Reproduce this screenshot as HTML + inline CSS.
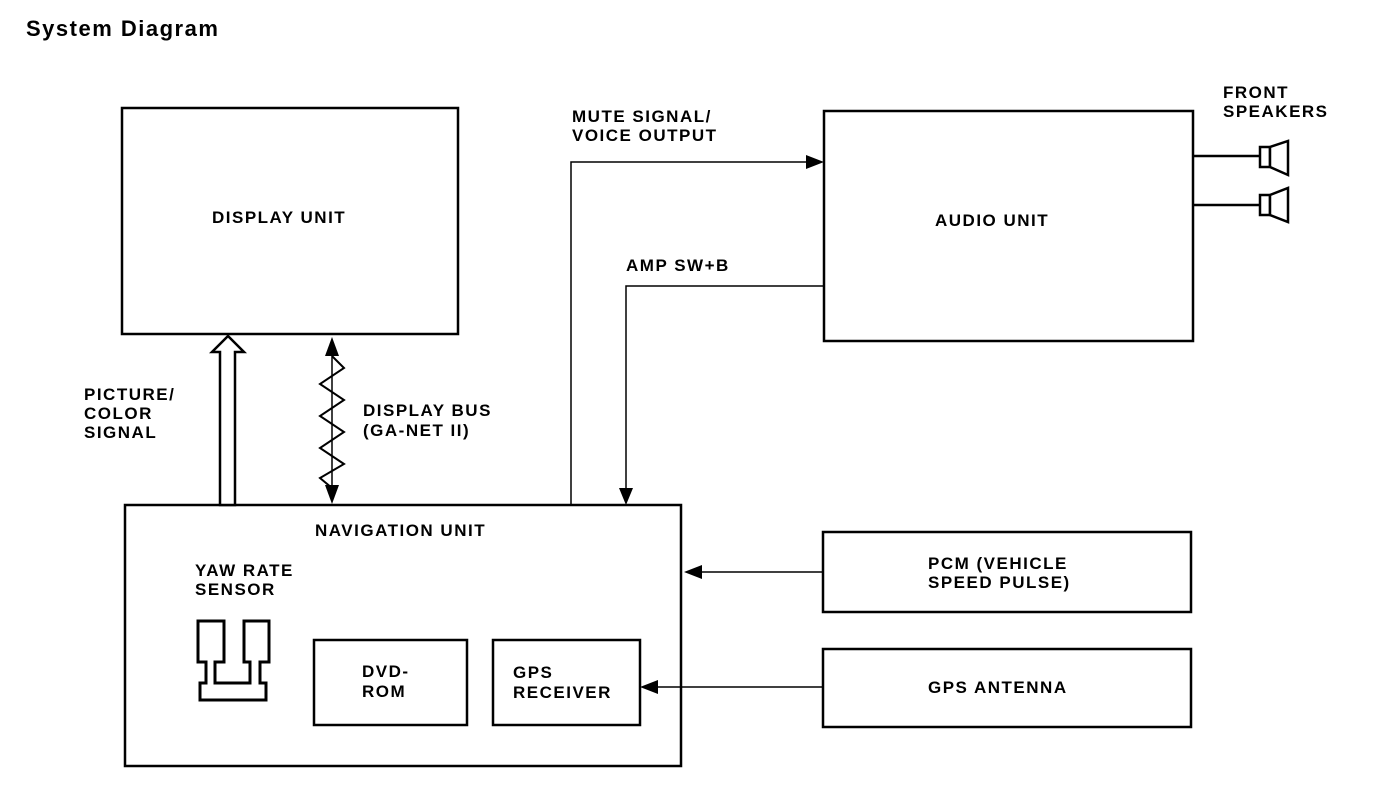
<!DOCTYPE html>
<html><head><style>
body{margin:0;background:#fff;}
svg text{font-family:"Liberation Sans",Arial,sans-serif;font-weight:bold;font-size:17px;letter-spacing:1.5px;fill:#000;}
</style></head><body>
<svg width="1376" height="798" viewBox="0 0 1376 798" xmlns="http://www.w3.org/2000/svg">
<text x="26" y="36" style="font-size:22px">System Diagram</text>
<g fill="none" stroke="#000" stroke-width="2.5">
<rect x="122" y="108" width="336" height="226"/>
<rect x="824" y="111" width="369" height="230"/>
<rect x="125" y="505" width="556" height="261"/>
<rect x="823" y="532" width="368" height="80"/>
<rect x="823" y="649" width="368" height="78"/>
<rect x="314" y="640" width="153" height="85"/>
<rect x="493" y="640" width="147" height="85"/>
</g>
<g fill="none" stroke="#000" stroke-width="1.5">
<polyline points="571,505 571,162 808,162"/>
<polyline points="824,286 626,286 626,490"/>
<line x1="823" y1="572" x2="700" y2="572"/>
<line x1="823" y1="687" x2="656" y2="687"/>
<line x1="332" y1="352" x2="332" y2="488"/>
</g>
<polygon points="824,162 806,155 806,169"/>
<polygon points="626,505 619,488 633,488"/>
<polygon points="684,572 702,565 702,579"/>
<polygon points="640,687 658,680 658,694"/>
<polygon points="332,337 325,356 339,356"/>
<polygon points="332,504 325,485 339,485"/>
<polyline points="332,356 344,368 320,384 344,400 320,416 344,432 320,448 344,464 320,478 332,488" fill="none" stroke="#000" stroke-width="2"/>
<polygon points="228,336 244,352 235,352 235,505 220,505 220,352 212,352" fill="#fff" stroke="#000" stroke-width="2.5"/>
<polyline points="1193,156 1260,156" fill="none" stroke="#000" stroke-width="2.5"/>
<polyline points="1193,205 1260,205" fill="none" stroke="#000" stroke-width="2.5"/>
<g fill="#fff" stroke="#000" stroke-width="2.5">
<rect x="1260" y="147" width="10" height="20"/>
<polygon points="1270,147 1288,141 1288,175 1270,167"/>
<rect x="1260" y="195" width="10" height="20"/>
<polygon points="1270,195 1288,188 1288,222 1270,215"/>
</g>
<polygon points="198,621 224,621 224,662 215,662 215,683 250,683 250,662 244,662 244,621 269,621 269,662 260,662 260,683 266,683 266,700 200,700 200,683 206,683 206,662 198,662" fill="none" stroke="#000" stroke-width="3"/>
<text x="212" y="223">DISPLAY UNIT</text>
<text x="935" y="226">AUDIO UNIT</text>
<text x="315" y="536">NAVIGATION UNIT</text>
<text x="928" y="569">PCM (VEHICLE</text>
<text x="928" y="588">SPEED PULSE)</text>
<text x="928" y="693">GPS ANTENNA</text>
<text x="362" y="677">DVD-</text>
<text x="362" y="697">ROM</text>
<text x="513" y="678">GPS</text>
<text x="513" y="698">RECEIVER</text>
<text x="195" y="576">YAW RATE</text>
<text x="195" y="595">SENSOR</text>
<text x="84" y="400">PICTURE/</text>
<text x="84" y="419">COLOR</text>
<text x="84" y="438">SIGNAL</text>
<text x="363" y="416">DISPLAY BUS</text>
<text x="363" y="436">(GA-NET II)</text>
<text x="572" y="122">MUTE SIGNAL/</text>
<text x="572" y="141">VOICE OUTPUT</text>
<text x="626" y="271">AMP SW+B</text>
<text x="1223" y="98">FRONT</text>
<text x="1223" y="117">SPEAKERS</text>
</svg>
</body></html>
